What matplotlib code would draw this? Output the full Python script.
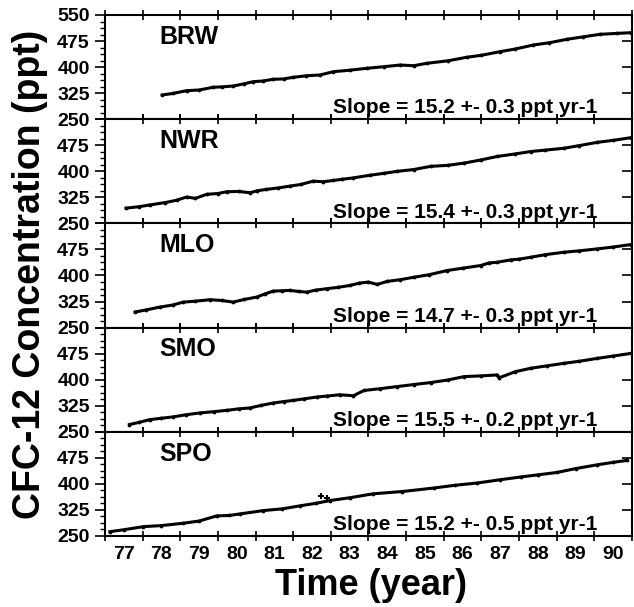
import matplotlib
matplotlib.use("Agg")
import matplotlib.pyplot as plt
import numpy as np
from matplotlib.ticker import AutoMinorLocator

plt.rcParams['font.family'] = ['Liberation Sans', 'DejaVu Sans']
plt.rcParams['font.weight'] = 'bold'

# station names and fitted slopes (ppt / yr) as printed in each panel
stations = ['BRW', 'NWR', 'MLO', 'SMO', 'SPO']
slopes = ['15.2 +- 0.3', '15.4 +- 0.3', '14.7 +- 0.3', '15.5 +- 0.2', '15.2 +- 0.5']

# CFC-12 readings (decimal year since 1900, ppt)
brw_t = [78.52, 78.8, 79.17, 79.5, 79.87, 80.1, 80.41, 80.7, 80.94, 81.2, 81.47, 81.75,
         82.0, 82.35, 82.71, 83.07, 83.5, 83.95, 84.4, 84.84, 85.2, 85.55, 86.1, 86.61,
         87.0, 87.49, 87.9, 88.38, 88.8, 89.27, 89.7, 90.15, 90.6, 90.97]
brw_c = [319.7, 324, 332.1, 334, 341.9, 343, 345.6, 352, 358.0, 360, 364.9, 366,
         370.6, 375, 377.3, 386.8, 391, 396.5, 401, 406.0, 404, 410.9, 418, 428.2,
         434, 444.3, 452, 463.6, 470, 480.0, 487, 494.4, 497, 499]

nwr_t = [77.56, 77.9, 78.2, 78.6, 78.9, 79.17, 79.4, 79.7, 80.0, 80.23, 80.55, 80.85,
         81.05, 81.29, 81.6, 81.91, 82.2, 82.53, 82.8, 83.06, 83.3, 83.59, 84.04, 84.4,
         84.77, 85.2, 85.65, 86.1, 86.54, 87.0, 87.42, 87.9, 88.31, 88.7, 89.19, 89.6,
         90.08, 90.5, 90.97]
nwr_c = [293.9, 298, 303.3, 310, 316.6, 326.0, 322, 333.7, 336, 341.1, 342, 338.3,
         344, 347.9, 352, 357.3, 362, 371.6, 370, 373.5, 377, 380.9, 388.6, 394,
         400.0, 405, 414.2, 417, 423.6, 433, 442.7, 450, 456.9, 461, 466.3, 474,
         483.4, 489, 496.8]

mlo_t = [77.8, 78.1, 78.46, 78.8, 79.08, 79.4, 79.79, 80.1, 80.41, 80.7, 81.03, 81.25,
         81.47, 81.7, 81.91, 82.15, 82.36, 82.6, 82.89, 83.2, 83.51, 83.75, 84.0, 84.23,
         84.5, 84.85, 85.21, 85.6, 86.09, 86.5, 86.98, 87.2, 87.42, 87.78, 88.0, 88.31,
         88.7, 89.19, 89.6, 90.08, 90.5, 90.97]
mlo_c = [294.8, 301, 309.1, 315, 323.4, 326, 330.3, 328, 323.4, 331, 337.8, 347,
         355.0, 356, 357.0, 354, 352.1, 358, 361.9, 366, 371.3, 378, 381, 374.2,
         383, 388, 395.1, 402, 414.3, 421, 428.7, 436, 438.1, 445.0, 447, 452.5,
         460, 466.9, 471, 476.6, 482, 489.0]

smo_t = [77.65, 77.9, 78.2, 78.5, 78.81, 79.15, 79.52, 79.9, 80.23, 80.55, 80.85, 81.15,
         81.47, 81.75, 82.0, 82.3, 82.62, 82.9, 83.24, 83.6, 83.88, 84.3, 84.77, 85.2,
         85.65, 86.1, 86.54, 87.0, 87.42, 87.47, 87.9, 88.31, 88.75, 89.19, 89.6, 90.08,
         90.5, 90.97]
smo_c = [270.9, 277, 285.2, 289, 292.9, 299, 304.3, 308, 311.7, 316, 318.6, 326,
         332.9, 337, 340.3, 345, 350.0, 353, 356.6, 353.8, 368.9, 374, 380.3, 386,
         391.7, 399, 408.9, 411, 413.7, 405.4, 423, 432.9, 440, 447.1, 453, 461.4,
         468, 475.7]

spo_t = [77.13, 77.5, 78.02, 78.5, 79.08, 79.5, 79.97, 80.3, 80.59, 81.21, 81.7, 82.18,
         82.6, 82.98, 83.5, 84.13, 84.9, 85.73, 86.3, 86.89, 87.5, 88.04, 88.5,
         89.02, 89.5, 90.08, 90.5, 90.88]
spo_c = [262.4, 268, 276.9, 280, 286.7, 293, 307.9, 309, 313.6, 323.2, 328, 336.8,
         344, 352.1, 360, 371.5, 378, 388, 396, 402.5, 412, 419.8, 426,
         433.1, 444, 455, 462, 467.8]
# isolated SPO flask point above the line
spo_out_t = [82.75, 82.9]
spo_out_c = [364, 360]

series = [(brw_t, brw_c), (nwr_t, nwr_c), (mlo_t, mlo_c), (smo_t, smo_c), (spo_t, spo_c)]

years = list(range(77, 91))
y_ticks = [250, 325, 400, 475, 550]

fig, axes = plt.subplots(5, 1, sharex=True, figsize=(6.34, 6.07), dpi=100)
fig.subplots_adjust(left=0.1656, right=0.9968, bottom=0.117, top=0.9753, hspace=0)

for i, ax in enumerate(axes):
    t, c = series[i]
    ax.plot(t, c, color='black', lw=2.2, marker='.', ms=3.5)
    if stations[i] == 'SPO':
        ax.plot(spo_out_t, spo_out_c, ls='none', color='black', marker='+', ms=5, mew=1.5)

    ax.set_xlim(77, 91)
    ax.set_ylim(250, 550)
    ax.set_yticks(y_ticks)
    if i == 0:
        ax.set_yticklabels([str(v) for v in y_ticks])
    else:
        ax.set_yticklabels([str(v) for v in y_ticks[:-1]] + [''])
    ax.yaxis.set_minor_locator(AutoMinorLocator(4))

    ax.set_xticks(np.arange(77, 92))
    ax.set_xticks(np.array(years) + 0.5, minor=True)
    ax.set_xticklabels([''] * 15)
    if i == len(axes) - 1:
        ax.set_xticklabels([str(y) for y in years], minor=True)

    ax.tick_params(axis='y', which='major', direction='out', length=7, width=1.2,
                   labelsize=14, pad=4)
    ax.tick_params(axis='y', which='minor', direction='out', length=3.5, width=1.0)
    ax.tick_params(axis='x', which='major', direction='inout', length=7, width=1.2,
                   top=True, bottom=True)
    ax.tick_params(axis='x', which='minor', length=0, labelsize=14, pad=7)
    for lab in ax.get_yticklabels() + ax.get_xticklabels(minor=True):
        lab.set_fontweight('bold')

    for s in ax.spines.values():
        s.set_linewidth(1.5)

    ax.text(0.104, 0.79, stations[i], transform=ax.transAxes, fontsize=18,
            fontweight='bold', ha='left', va='center')
    ax.text(0.684, 0.055, 'Slope = ' + slopes[i] + ' ppt yr-1', transform=ax.transAxes,
            fontsize=15, fontweight='bold', ha='center', va='baseline')

# right-hand y ticks point inward
for ax in axes:
    ax.yaxis.set_tick_params(which='major', right=True)
    for tk in ax.yaxis.get_major_ticks():
        tk.tick2line.set_marker(matplotlib.lines.TICKLEFT)
        tk.tick2line.set_markersize(7)

fig.text(0.047, 0.548, 'CFC-12 Concentration (ppt)', rotation=90, fontsize=27,
         fontweight='bold', ha='center', va='center')
fig.text(0.585, 0.019, 'Time (year)', fontsize=26, fontweight='bold',
         ha='center', va='baseline')

fig.savefig('out.png', dpi=100)
